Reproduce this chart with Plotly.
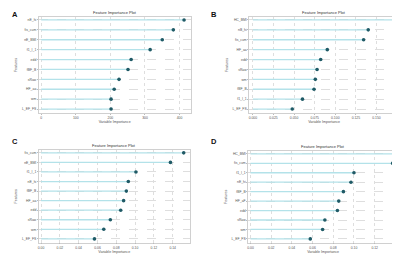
import plotly.graph_objects as go

# ---- data (top feature first) ----
feat_a = ["nE_hi", "fis_cum", "nE_BMI", "f1_I_1", "edd", "fBF_B", "sRaw", "HF_aa", "wm", "L_EF_FS"]
imp_a = [413, 382, 350, 315, 260, 251, 225, 211, 202, 202]
ticks_a = [0, 100, 200, 300, 400]

feat_b = ["HC_BMI", "nB_hi", "fis_cum", "HF_aa", "edd", "sRaw", "wm", "fBF_B", "f1_I_1", "L_EF_FS"]
imp_b = [0.171, 0.140, 0.1344, 0.0903, 0.0823, 0.0779, 0.0758, 0.0742, 0.0602, 0.0478]
ticks_b = [0.000, 0.025, 0.050, 0.075, 0.100, 0.125, 0.150, 0.175]

feat_c = ["fis_cum", "nE_BMI", "f1_I_1", "nE_hi", "fBF_B", "HF_aa", "edd", "sRaw", "wm", "L_EF_FS"]
imp_c = [0.1517, 0.1376, 0.1009, 0.0928, 0.0907, 0.0878, 0.0847, 0.0737, 0.0667, 0.0568]
ticks_c = [0.00, 0.02, 0.04, 0.06, 0.08, 0.10, 0.12, 0.14]

feat_d = ["HC_BMI", "fis_cum", "f1_I_1", "nE_hi", "fBF_B", "HF_aF", "edd", "sRaw", "wm", "L_EF_FS"]
imp_d = [0.1385, 0.1374, 0.1000, 0.0971, 0.0898, 0.0853, 0.0840, 0.0719, 0.0697, 0.0578]
ticks_d = [0.00, 0.02, 0.04, 0.06, 0.08, 0.10, 0.12, 0.14]

panels = [
    ("A", feat_a, imp_a, ticks_a, [0.075, 0.4575], [0.5866, 0.9646], [-7, 432], "d"),
    ("B", feat_b, imp_b, ticks_b, [0.605, 0.9825], [0.5866, 0.9646], [-0.0045, 0.1774], ".3f"),
    ("C", feat_c, imp_c, ticks_c, [0.075, 0.455], [0.076, 0.441], [-0.0024, 0.158], ".2f"),
    ("D", feat_d, imp_d, ticks_d, [0.6025, 0.98], [0.076, 0.437], [-0.0022, 0.1426], ".2f"),
]

LINE = "#b3e2e9"
DOT = "#1f5a66"
GRID = "#dedede"
FONT = "Liberation Sans"

fig = go.Figure()
layout = dict(
    width=400, height=254, margin=dict(l=0, r=0, t=0, b=0),
    paper_bgcolor="white", plot_bgcolor="white", showlegend=False,
    font=dict(family=FONT, size=4, color="#555"),
)
annotations = []

for k, (letter, feats, vals, ticks, xd, yd, xr, fmt) in enumerate(panels):
    n = len(feats)
    ypos = [n - 1 - i for i in range(n)]
    xs, ys = [], []
    for v, y in zip(vals, ypos):
        xs += [0, v, None]
        ys += [y, y, None]
    sfx = "" if k == 0 else str(k + 1)
    xa, ya = "x" + sfx, "y" + sfx
    fig.add_trace(go.Scatter(x=xs, y=ys, mode="lines", line=dict(color=LINE, width=1.3),
                             xaxis=xa, yaxis=ya, hoverinfo="skip"))
    fig.add_trace(go.Scatter(x=vals, y=ypos, mode="markers",
                             marker=dict(color=DOT, size=3.6), xaxis=xa, yaxis=ya))
    ticktext = [("{:" + fmt + "}").format(t) if fmt != "d" else str(t) for t in ticks]
    layout["xaxis" + sfx] = dict(
        domain=xd, anchor=ya, range=xr, tickvals=ticks, ticktext=ticktext,
        showgrid=True, gridcolor=GRID, griddash="dot", gridwidth=0.6,
        zeroline=False, showline=True, linecolor="#d0d0d0", mirror=True, linewidth=0.6,
        ticks="outside", ticklen=1, tickcolor="#bbb", tickfont=dict(size=3.4),
        title=dict(text="Variable Importance", font=dict(size=3.6), standoff=0),
    )
    layout["yaxis" + sfx] = dict(
        domain=yd, anchor=xa, range=[-0.4, n - 1 + 0.3], tickvals=ypos, ticktext=feats,
        showgrid=True, gridcolor=GRID, griddash="dash", gridwidth=0.6,
        zeroline=False, showline=True, linecolor="#d0d0d0", mirror=True, linewidth=0.6,
        ticks="outside", ticklen=1, tickcolor="#bbb", tickfont=dict(size=3.4),
        title=dict(text="Features", font=dict(size=3.6), standoff=4),
    )
    annotations.append(dict(text="Feature Importance Plot", x=(xd[0] + xd[1]) / 2, y=yd[1],
                            xref="paper", yref="paper", xanchor="center", yanchor="bottom",
                            yshift=0, showarrow=False, font=dict(size=4, color="#333")))
    annotations.append(dict(text="<b>" + letter + "</b>", x=(0.0 if k % 2 == 0 else 0.5) + 0.003,
                            y=(1.0 if k < 2 else 0.50),
                            xref="paper", yref="paper", xanchor="left", yanchor="top",
                            showarrow=False, font=dict(size=7.5, color="#111")))

layout["annotations"] = annotations
fig.update_layout(**layout)
fig.write_html("out.html")
